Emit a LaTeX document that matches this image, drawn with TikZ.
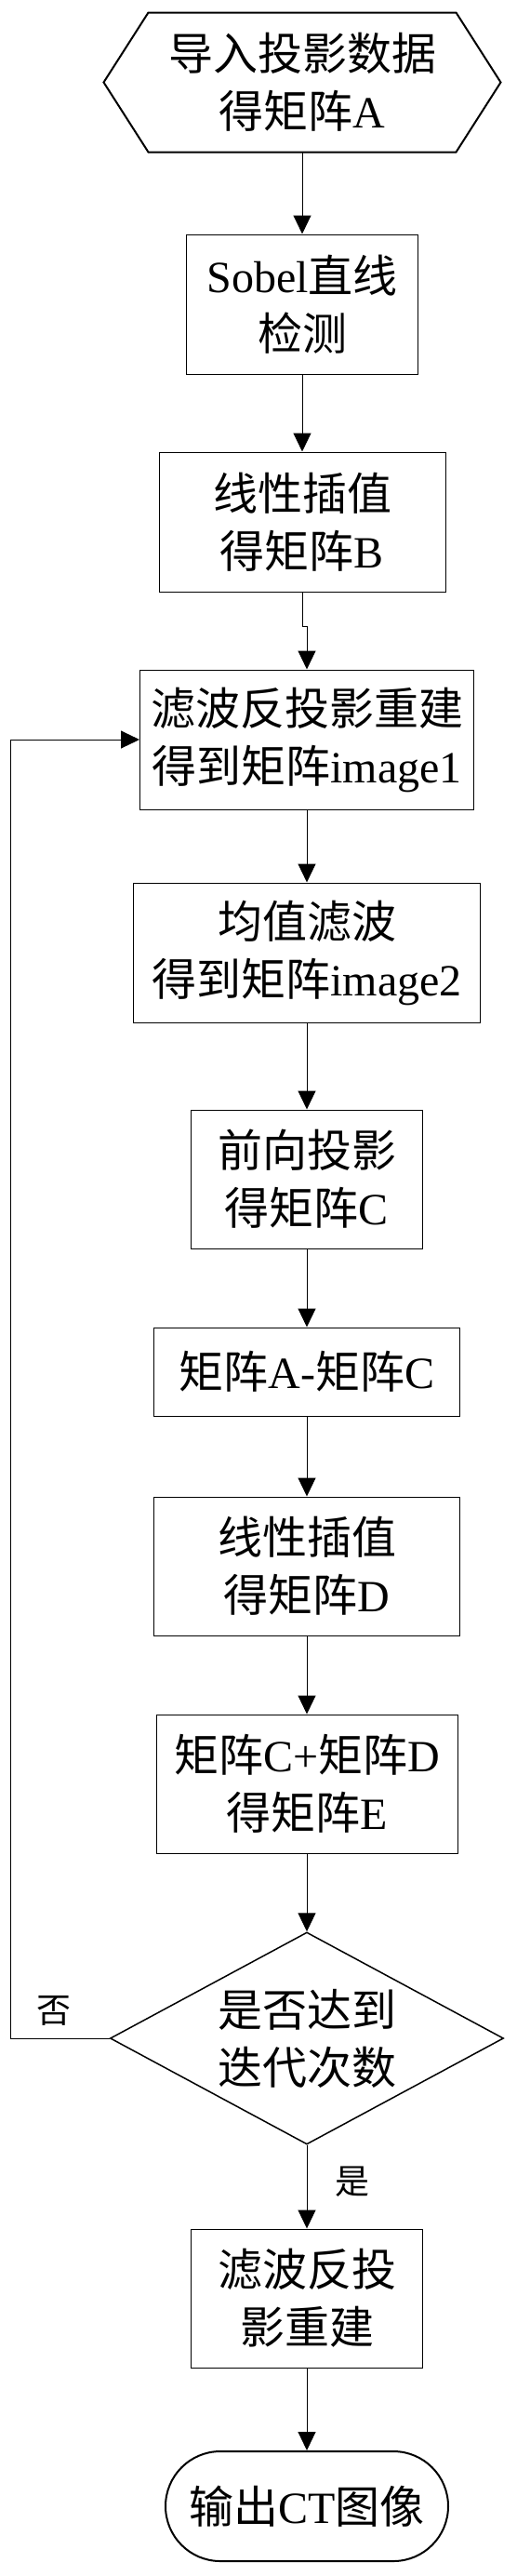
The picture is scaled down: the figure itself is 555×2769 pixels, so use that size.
\documentclass[tikz,border=0pt]{standalone}
\usepackage{fontspec}
\setmainfont{Liberation Serif}
\newfontfamily\zhfont{Noto Sans CJK SC}
\usepackage{tikz}
\usetikzlibrary{arrows.meta,shapes.geometric,calc}
\newcommand{\zh}[1]{{\zhfont #1}}
\tikzset{
  proc/.style={draw, line width=1pt, align=center, inner sep=0pt,
    font=\fontsize{48}{62}\selectfont},
  arr/.style={-{Triangle[width=19pt,length=20pt]}, line width=1pt},
  lab/.style={inner sep=0pt, font=\fontsize{37}{44}\selectfont},
}

\begin{document}
\begin{tikzpicture}[x=1pt, y=-1pt]
        \useasboundingbox (0,0) rectangle (555,2769);
        % Input hexagon
        \node[proc, draw=none, minimum width=330pt, minimum height=149pt]
          (hexin) at (325,88.5) {\zh{导入投影数据}\\\zh{得矩阵}A};
        \draw[line width=2pt] (hexin.north west) -- (hexin.north east)
          -- ($(hexin.east)+(48,0)$) -- (hexin.south east)
          -- (hexin.south west) -- ($(hexin.west)+(-48,0)$) -- cycle;
        % Process boxes
        \node[proc, minimum width=249pt, minimum height=150pt]
          (sobel) at (325,327) {Sobel\zh{直线}\\\zh{检测}};
        \node[proc, minimum width=308pt, minimum height=150pt]
          (linB) at (325,561) {\zh{线性插值}\\\zh{得矩阵}B};
        \node[proc, minimum width=359pt, minimum height=150pt]
          (img1) at (330,795) {\zh{滤波反投影重建}\\\zh{得到矩阵}image1};
        \node[proc, minimum width=373pt, minimum height=150pt]
          (img2) at (330,1024) {\zh{均值滤波}\\\zh{得到矩阵}image2};
        \node[proc, minimum width=249pt, minimum height=149pt]
          (fwdC) at (330,1267.5) {\zh{前向投影}\\\zh{得矩阵}C};
        \node[proc, minimum width=329pt, minimum height=95pt]
          (AminusC) at (330,1474.5) {\zh{矩阵}A-\zh{矩阵}C};
        \node[proc, minimum width=329pt, minimum height=149pt]
          (linD) at (330,1683.5) {\zh{线性插值}\\\zh{得矩阵}D};
        \node[proc, minimum width=324pt, minimum height=149pt]
          (CplusD) at (330,1917.5) {\zh{矩阵}C+\zh{矩阵}D\\\zh{得矩阵}E};
        % Decision
        \node[proc, diamond, aspect=1.85, line width=1.5pt,
          minimum width=423pt, minimum height=228pt]
          (decide) at (330,2191) {\zh{是否达到}\\\zh{迭代次数}};
        \node[proc, minimum width=249pt, minimum height=149pt]
          (fbp) at (330,2470.5) {\zh{滤波反投}\\\zh{影重建}};
        % Output
        \node[proc, line width=2pt, rounded corners=59pt,
          minimum width=304pt, minimum height=118pt]
          (out) at (330,2694) {\zh{输出}CT\zh{图像}};
        % Arrows down the chain
        \foreach \a/\b in {hexin/sobel,sobel/linB,img1/img2,img2/fwdC,
          fwdC/AminusC,AminusC/linD,linD/CplusD,CplusD/decide,decide/fbp,fbp/out}{
          \draw[arr] (\a.south)--(\b.north);
        }
        \draw[arr] (linB.south) -- ++(0,37) -| (img1.north);
        % Loop back
        \coordinate (back) at (11,795);
        \draw[arr] (decide.west) -| (back) -- (img1.west);
        \node[lab] (no) at (58,2161) {\zh{否}};
        \node[lab] (yes) at (379,2345) {\zh{是}};
      \end{tikzpicture}
\end{document}
